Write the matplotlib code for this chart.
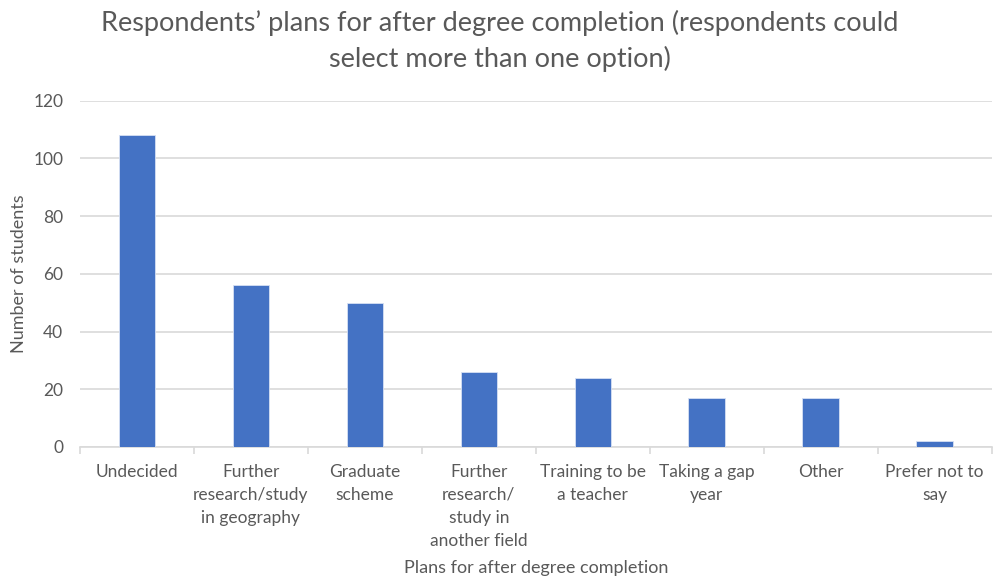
import matplotlib
matplotlib.use("Agg")
import matplotlib.pyplot as plt
import numpy as np

plt.rcParams["font.family"] = ["Lato", "DejaVu Sans"]

categories = [
    "Undecided",
    "Further\nresearch/study\nin geography",
    "Graduate\nscheme",
    "Further\nresearch/\nstudy in\nanother field",
    "Training to be\na teacher",
    "Taking a gap\nyear",
    "Other",
    "Prefer not to\nsay",
]
students = [108, 56, 50, 26, 24, 17, 17, 2]

TEXT = "#595959"
GRID = "#d9d9d9"
BAR = "#4472c4"

fig = plt.figure(figsize=(9.94, 5.79), dpi=100)
ax = fig.add_axes([0.0805, 0.228, 0.917, 0.598])

x = np.arange(len(categories))
ax.bar(x, students, width=0.32, color=BAR, edgecolor="#d6e0f3", linewidth=0.6, zorder=3)

ax.set_xlim(-0.5, len(categories) - 0.5)
ax.set_ylim(0, 120)
ax.set_yticks(range(0, 121, 20))
ax.grid(True, axis="y", color=GRID, linewidth=1.2, zorder=0)

for s in ("top", "right", "left"):
    ax.spines[s].set_visible(False)
ax.spines["bottom"].set_color(GRID)
ax.spines["bottom"].set_linewidth(1.2)

# category labels centred on bars, boundary ticks between them
ax.set_xticks(x)
ax.set_xticklabels(categories, fontsize=12.5, color=TEXT, va="top", linespacing=1.55)
ax.tick_params(axis="x", length=0, pad=12)
ax.set_xticks(np.arange(-0.5, len(categories)), minor=True)
ax.tick_params(axis="x", which="minor", length=5, color=GRID, width=1.2)
ax.tick_params(axis="y", length=0, labelsize=12.5, labelcolor=TEXT, pad=12)

ax.set_ylabel("Number of students", fontsize=13, color=TEXT)
ax.yaxis.set_label_coords(-0.058, 0.5)
ax.set_xlabel("Plans for after degree completion", fontsize=13, color=TEXT)
ax.xaxis.set_label_coords(0.5, -0.325)

fig.suptitle("Respondents\u2019 plans for after degree completion (respondents could\nselect more than one option)",
             x=0.503, y=0.983, fontsize=19.5, color=TEXT, linespacing=1.45)

fig.savefig("out.png", dpi=100)
